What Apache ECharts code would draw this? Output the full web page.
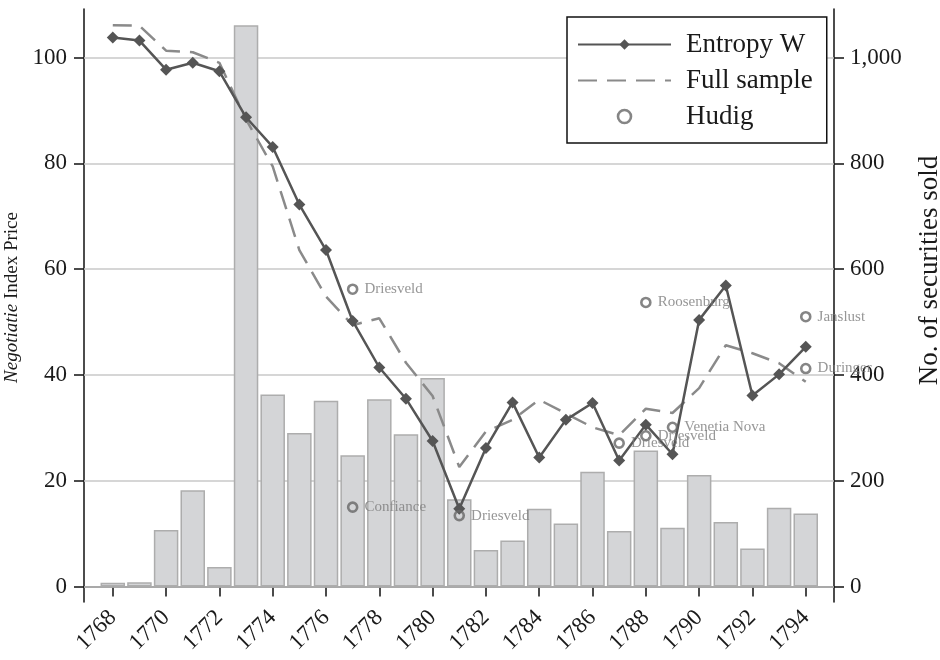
<!DOCTYPE html>
<html>
<head>
<meta charset="utf-8">
<script src="https://cdn.jsdelivr.net/npm/echarts@6/dist/echarts.min.js"></script>
<style>
  html, body { margin: 0; background: #fff; }
  #chart { width: 940px; height: 660px; }
</style>
</head>
<body>
<div id="chart"></div>
<script>
// years on the x axis
var years = [1768, 1769, 1770, 1771, 1772, 1773, 1774, 1775, 1776, 1777, 1778, 1779, 1780, 1781,
             1782, 1783, 1784, 1785, 1786, 1787, 1788, 1789, 1790, 1791, 1792, 1793, 1794];
// Negotiatie index price (left axis)
var entropyW = [103.8, 103.2, 97.7, 99.0, 97.4, 88.7, 83.1, 72.2, 63.6, 50.2, 41.4, 35.5, 27.5, 14.7,
                26.2, 34.8, 24.4, 31.5, 34.7, 23.8, 30.6, 25.0, 50.4, 56.9, 36.1, 40.1, 45.3];
var fullSample = [106.1, 106.0, 101.3, 101.0, 99.0, 88.3, 79.4, 63.6, 54.8, 49.4, 50.7, 42.3, 36.0, 22.6,
                  29.3, 31.5, 35.3, 32.7, 30.1, 28.6, 33.6, 32.8, 37.5, 45.6, 44.1, 42.2, 38.7];
// number of securities sold (right axis)
var securitiesSold = [7, 8, 107, 182, 37, 1061, 363, 290, 351, 248, 354, 288, 394, 165,
                      69, 87, 147, 119, 217, 105, 257, 111, 211, 122, 72, 149, 138];
// Hudig observations
var hudigYears = [1777, 1777, 1781, 1787, 1788, 1788, 1789, 1794, 1794];
var hudigPrices = [56.2, 15.0, 13.4, 27.1, 28.5, 53.7, 30.1, 51.0, 41.2];
var hudigNames = ['Driesveld', 'Confiance', 'Driesveld', 'Driesveld', 'Driesveld',
                  'Roosenburg', 'Venetia Nova', 'Janslust', 'Duringer'];
// tick labels
var xTicks = [1768, 1770, 1772, 1774, 1776, 1778, 1780, 1782, 1784, 1786, 1788, 1790, 1792, 1794];
var leftTicks = [0, 20, 40, 60, 80, 100];
var rightTicks = [0, 200, 400, 600, 800, 1000];

var serif = 'Liberation Serif';
var ink = '#1a1a1a';

var chart = echarts.init(document.getElementById('chart'));

var option = {
    animation: false,
    grid: { left: 84, right: 106, top: 9, bottom: 58, containLabel: false, outerBoundsMode: 'none' },
    legend: {
        orient: 'vertical',
        left: 567,
        top: 17,
        padding: [14, 14, 13, 10],
        itemWidth: 93,
        itemHeight: 13,
        itemGap: 9,
        borderColor: '#111',
        borderWidth: 1.5,
        backgroundColor: '#fff',
        textStyle: { fontSize: 27, fontFamily: serif, color: ink, padding: [0, 0, 0, 10] },
        data: [
            'Entropy W',
            { name: 'Full sample', itemStyle: { opacity: 0 } },
            { name: 'Hudig', itemStyle: { color: 'rgba(255,255,255,0)', borderColor: '#666', borderWidth: 2.6 } }
        ]
    },
    xAxis: {
        type: 'value',
        min: 1766.92,
        max: 1795.06,
        axisLine: { lineStyle: { color: '#111', width: 1.5 } },
        axisTick: { customValues: xTicks, length: 10, lineStyle: { color: '#111', width: 1.5 } },
        axisLabel: {
            customValues: xTicks, rotate: 45, margin: 12,
            fontSize: 23, fontFamily: serif, color: ink,
            formatter: function (v) { return String(v); }
        },
        splitLine: { show: false }
    },
    yAxis: [
        {
            type: 'value',
            position: 'left',
            min: -2.93,
            max: 109.17,
            name: '{i|Negotiatie} Index Price',
            nameLocation: 'middle',
            nameRotate: 90,
            nameGap: 55,
            nameTextStyle: {
                fontSize: 19, fontFamily: serif, color: ink, padding: [0, 0, 0, 16],
                rich: { i: { fontSize: 19, fontFamily: serif, fontStyle: 'italic', color: ink } }
            },
            axisLine: { show: true, lineStyle: { color: '#111', width: 1.5 } },
            axisTick: { show: true, customValues: leftTicks, length: 10, lineStyle: { color: '#111', width: 1.5 } },
            axisLabel: { customValues: leftTicks, margin: 17, fontSize: 23, fontFamily: serif, color: ink },
            splitLine: { show: false }
        },
        {
            type: 'value',
            position: 'right',
            min: -29.3,
            max: 1091.7,
            name: 'No. of securities sold',
            nameLocation: 'middle',
            nameRotate: 90,
            nameGap: 82,
            nameTextStyle: { fontSize: 27, fontFamily: serif, color: ink, padding: [0, 0, 0, 70] },
            axisLine: { show: true, lineStyle: { color: '#111', width: 1.5 } },
            axisTick: { show: true, customValues: rightTicks, length: 10, lineStyle: { color: '#111', width: 1.5 } },
            axisLabel: {
                customValues: rightTicks, margin: 16, fontSize: 23, fontFamily: serif, color: ink,
                formatter: function (v) { return v.toLocaleString('en-US'); }
            },
            splitLine: { show: false }
        }
    ],
    series: [
        {
            name: 'No. of securities sold',
            type: 'bar',
            yAxisIndex: 1,
            barWidth: 24.5,
            z: 2,
            itemStyle: { color: '#d4d5d7', borderColor: '#adadad', borderWidth: 1.5 },
            data: years.map(function (y, i) { return [y, securitiesSold[i]]; }),
            // horizontal grid lines, drawn behind the bars
            markLine: {
                silent: true,
                z: 1,
                symbol: 'none',
                label: { show: false },
                lineStyle: { color: '#c8c8c8', width: 1.5, type: 'solid' },
                data: rightTicks.map(function (v) { return { yAxis: v }; })
            }
        },
        {
            name: 'Full sample',
            type: 'line',
            z: 3,
            symbol: 'none',
            lineStyle: { color: '#8a8a8a', width: 2.5, type: [19, 10] },
            itemStyle: { color: '#8a8a8a' },
            data: years.map(function (y, i) { return [y, fullSample[i]]; })
        },
        {
            name: 'Entropy W',
            type: 'line',
            z: 4,
            symbol: 'diamond',
            symbolSize: 12,
            lineStyle: { color: '#555', width: 2.5 },
            itemStyle: { color: '#555' },
            data: years.map(function (y, i) { return [y, entropyW[i]]; })
        },
        {
            name: 'Hudig',
            type: 'scatter',
            z: 5,
            symbol: 'circle',
            symbolSize: 9,
            itemStyle: { color: 'rgba(255,255,255,0)', borderColor: '#666', borderWidth: 2.6 },
            label: {
                show: true, position: 'right', distance: 6, formatter: '{b}',
                fontSize: 15, fontFamily: serif, color: '#7c7c7c'
            },
            data: hudigYears.map(function (y, i) {
                return { name: hudigNames[i], value: [y, hudigPrices[i]] };
            })
        }
    ]
};

chart.setOption(option);
</script>
</body>
</html>
